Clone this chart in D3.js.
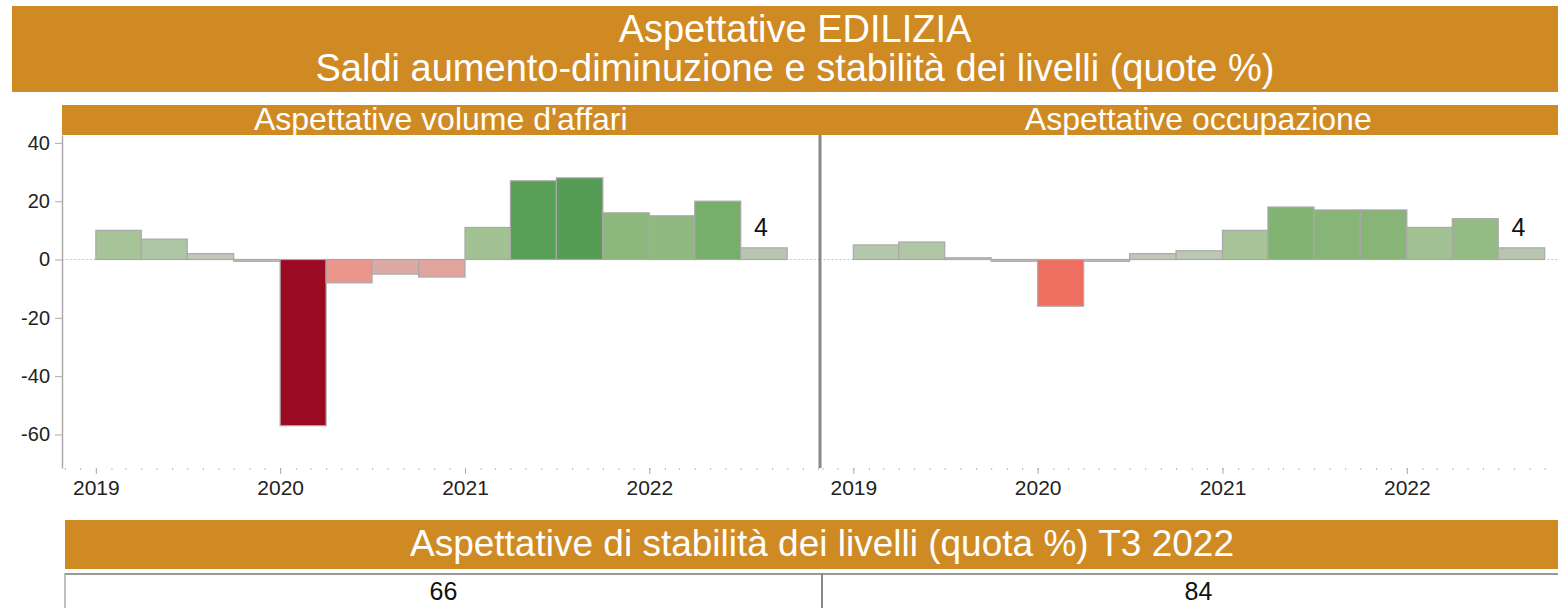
<!DOCTYPE html>
<html>
<head>
<meta charset="utf-8">
<script src="https://cdn.jsdelivr.net/npm/d3@7"></script>
<style>
  body { margin: 0; background: #fff; }
  svg text { font-family: "Liberation Sans", Arial, sans-serif; }
</style>
</head>
<body>
<div id="chart"></div>
<script>
// quarters shown in both panels (T1 2019 .. T3 2022)
var quarters = ["T1 2019", "T2 2019", "T3 2019", "T4 2019",
                "T1 2020", "T2 2020", "T3 2020", "T4 2020",
                "T1 2021", "T2 2021", "T3 2021", "T4 2021",
                "T1 2022", "T2 2022", "T3 2022"];

// saldi aumento-diminuzione
var volumeAffari = [10, 7, 2, -0.6, -57, -8, -5, -6, 11, 27, 28, 16, 15, 20, 4];
var occupazione  = [5, 6, 0.6, -0.6, -16, -0.6, 2, 3, 10, 18, 17, 17, 11, 14, 4];

var panelTitles = ["Aspettative volume d'affari", "Aspettative occupazione"];
var stabilita = [66, 84];

var yTicks = [40, 20, 0, -20, -40, -60];
var yearTicks = [2019, 2020, 2021, 2022];

var mainTitle = ["Aspettative EDILIZIA", "Saldi aumento-diminuzione e stabilità dei livelli (quote %)"];
var stabTitle = "Aspettative di stabilità dei livelli (quota %) T3 2022";

var orange = "#cf8a23";
var width = 1558, height = 608;

var svg = d3.select("#chart").append("svg")
    .attr("width", width)
    .attr("height", height);

// --- main title bar
svg.append("rect").attr("x", 12).attr("y", 6).attr("width", 1566).attr("height", 86).attr("fill", orange);
svg.selectAll(".main-title").data(mainTitle).enter().append("text")
    .attr("class", "main-title")
    .attr("x", 795)
    .attr("y", function(d, i) { return 42 + i * 39; })
    .attr("text-anchor", "middle")
    .attr("fill", "#fff")
    .attr("font-size", 38)
    .text(function(d) { return d; });

// --- panels
var panelW = 757.5;
var panelX = [62, 62 + panelW];
var plotTop = 135, plotBottom = 468;

svg.append("rect").attr("x", 62).attr("y", 105).attr("width", 1516).attr("height", 30).attr("fill", orange);

var parseQ = function(s) {
    var q = +s.charAt(1), yr = +s.slice(3);
    return new Date(yr, (q - 1) * 3, 1);
};

var x = d3.scaleTime()
    .domain([new Date(2018, 9, 26), new Date(2022, 11, 4)])
    .range([0, panelW]);

var y = d3.scaleLinear()
    .domain([-71.5, 42.7])
    .range([plotBottom, plotTop]);

var color = d3.scaleLinear()
    .domain([-57, -16, -8, -5, 0, 2, 5, 10, 16, 20, 28])
    .range(["#9b0a23", "#ee6f60", "#ea968b", "#dcaaa5", "#c4c6c0", "#c0c7b9",
            "#b4c6ab", "#a6c497", "#8cb77c", "#76ae6a", "#559d55"]);

var series = [volumeAffari, occupazione];

series.forEach(function(values, p) {
    var data = quarters.map(function(q, i) { return { date: parseQ(q), value: values[i] }; });
    var g = svg.append("g").attr("transform", "translate(" + panelX[p] + ",0)");

    // panel header text
    g.append("text")
        .attr("x", panelW / 2)
        .attr("y", 130)
        .attr("text-anchor", "middle")
        .attr("fill", "#fff")
        .attr("font-size", 32)
        .text(panelTitles[p]);

    // zero reference line (dotted)
    g.append("line")
        .attr("x1", 0).attr("x2", panelW)
        .attr("y1", y(0)).attr("y2", y(0))
        .attr("stroke", "#bbb")
        .attr("stroke-dasharray", "1.5,2.5");

    g.selectAll(".bar").data(data).enter().append("rect")
        .attr("class", "bar")
        .attr("x", function(d) { return x(d.date); })
        .attr("width", function(d) { return x(d3.timeMonth.offset(d.date, 3)) - x(d.date); })
        .attr("y", function(d) { return y(Math.max(0, d.value)); })
        .attr("height", function(d) { return Math.abs(y(d.value) - y(0)); })
        .attr("fill", function(d) { return color(d.value); })
        .attr("stroke", "#a9a9a9")
        .attr("stroke-width", 1.2);

    // label of last quarter
    var last = data[data.length - 1];
    g.append("text")
        .attr("x", (x(last.date) + x(d3.timeMonth.offset(last.date, 3))) / 2 - 3)
        .attr("y", y(last.value) - 12)
        .attr("text-anchor", "middle")
        .attr("font-size", 25)
        .attr("fill", "#111")
        .text(String(Math.round(last.value)));

    // x axis: monthly dots + yearly ticks
    var minor = g.append("g")
        .attr("transform", "translate(0," + plotBottom + ")")
        .call(d3.axisBottom(x).ticks(d3.timeMonth.every(1)).tickSize(2).tickFormat(""));
    minor.select(".domain").remove();
    minor.selectAll("line").attr("stroke", "#bbb");

    var major = g.append("g")
        .attr("transform", "translate(0," + plotBottom + ")")
        .call(d3.axisBottom(x)
            .tickValues(yearTicks.map(function(yr) { return new Date(yr, 0, 1); }))
            .tickSize(6).tickPadding(6)
            .tickFormat(d3.timeFormat("%Y")));
    major.select(".domain").remove();
    major.selectAll("line").attr("stroke", "#aaa");
    major.selectAll("text")
        .attr("font-size", 21)
        .attr("fill", "#222")
        .style("font-family", "'Liberation Sans', Arial, sans-serif");
});

// y axis (left panel only) - plain hyphen for negatives like the original
var yAxis = svg.append("g")
    .attr("transform", "translate(62,0)")
    .call(d3.axisLeft(y).tickValues(yTicks).tickSize(7).tickSizeOuter(0).tickPadding(5)
        .tickFormat(function(d) { return String(d); }));
yAxis.select(".domain").attr("stroke", "#aaa").attr("stroke-width", 1.5);
yAxis.selectAll("line").attr("stroke", "#aaa");
yAxis.selectAll("text")
    .attr("font-size", 20)
    .attr("fill", "#222")
    .style("font-family", "'Liberation Sans', Arial, sans-serif");

// separator between panels
svg.append("line")
    .attr("x1", 820).attr("x2", 820)
    .attr("y1", plotTop).attr("y2", plotBottom)
    .attr("stroke", "#888")
    .attr("stroke-width", 3);

// --- stability table
svg.append("rect").attr("x", 65).attr("y", 520).attr("width", 1514).attr("height", 49).attr("fill", orange);
svg.append("text")
    .attr("x", 822)
    .attr("y", 556)
    .attr("text-anchor", "middle")
    .attr("fill", "#fff")
    .attr("font-size", 37)
    .text(stabTitle);

svg.append("line").attr("x1", 65).attr("x2", 1580).attr("y1", 574).attr("y2", 574)
    .attr("stroke", "#999").attr("stroke-width", 2);
svg.append("line").attr("x1", 65).attr("x2", 65).attr("y1", 573).attr("y2", 608)
    .attr("stroke", "#aaa").attr("stroke-width", 1.5);
svg.append("line").attr("x1", 822).attr("x2", 822).attr("y1", 573).attr("y2", 608)
    .attr("stroke", "#888").attr("stroke-width", 2);

var cellX = [(65 + 822) / 2, (822 + 1575) / 2];
svg.selectAll(".stab").data(stabilita).enter().append("text")
    .attr("class", "stab")
    .attr("x", function(d, i) { return cellX[i]; })
    .attr("y", 600)
    .attr("text-anchor", "middle")
    .attr("font-size", 25)
    .attr("fill", "#111")
    .text(function(d) { return d; });
</script>
</body>
</html>
